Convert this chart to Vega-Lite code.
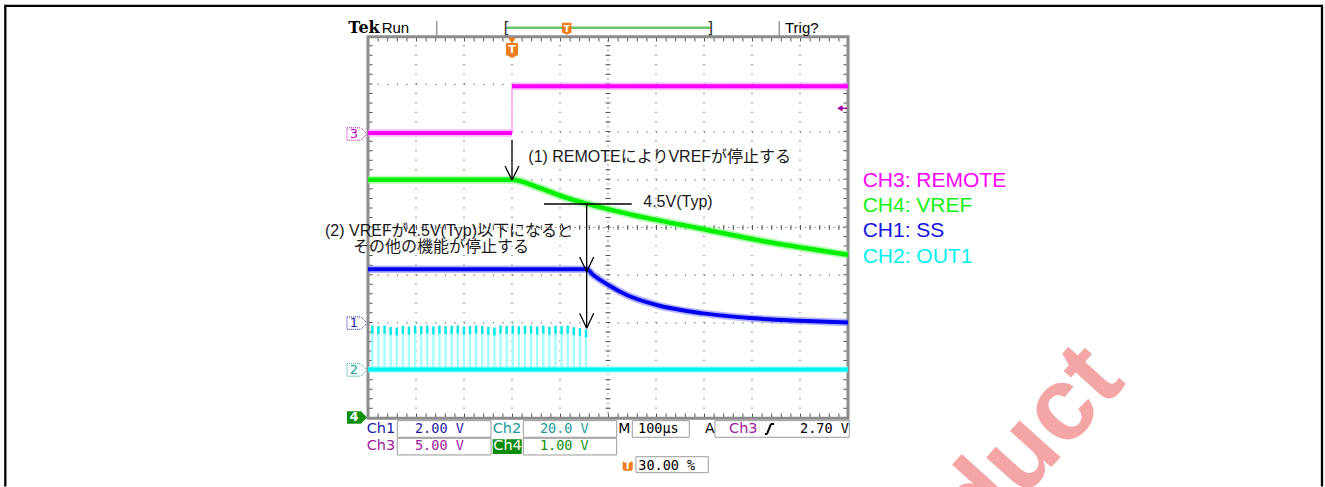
{
"$schema": "https://vega.github.io/schema/vega-lite/v6.json",
"width": 1325, "height": 487,
"autosize": {"type": "none"},
"padding": 0,
"background": "#ffffff",
"config": {"view": {"stroke": null}, "axis": {"disable": true, "grid": false, "domain": false, "ticks": false, "labels": false}},
"data": {"values": [{}]},
"datasets": {
  "ch3": [{"t": -300, "v": -0.1, "seg": "off"}, {"t": 0, "v": -0.1, "seg": "off"}, {"t": 0, "v": 4.8, "seg": "on"}, {"t": 700, "v": 4.8, "seg": "on"}],
  "ch4": [{"t": -300, "v": 5.0}, {"t": 0, "v": 5.0}, {"t": 57, "v": 4.83}, {"t": 114, "v": 4.62}, {"t": 155.6, "v": 4.5}, {"t": 252.7, "v": 4.26}, {"t": 391.7, "v": 3.98}, {"t": 530.6, "v": 3.7}, {"t": 700, "v": 3.43}],
  "ch1": [{"t": -300, "v": 2.25}, {"t": 155.6, "v": 2.25}, {"t": 169.4, "v": 2.01}, {"t": 200.6, "v": 1.59}, {"t": 239, "v": 1.17}, {"t": 301.5, "v": 0.75}, {"t": 398.5, "v": 0.4}, {"t": 502.7, "v": 0.19}, {"t": 600, "v": 0.09}, {"t": 700, "v": 0.02}],
  "ch2": [{"t": -300, "v": 0.5}, {"t": 700, "v": 0.5}],
  "pulses": [
    {"t": -291.0, "v": 17.2, "lo": 0.5}, {"t": -278.3, "v": 17.0, "lo": 0.5}, {"t": -265.6, "v": 17.2, "lo": 0.5}, {"t": -252.8, "v": 16.6, "lo": 0.5}, {"t": -240.1, "v": 16.4, "lo": 0.5}, {"t": -227.4, "v": 17.1, "lo": 0.5},
    {"t": -214.7, "v": 16.8, "lo": 0.5}, {"t": -201.9, "v": 17.2, "lo": 0.5}, {"t": -189.2, "v": 17.0, "lo": 0.5}, {"t": -176.5, "v": 17.2, "lo": 0.5}, {"t": -163.8, "v": 16.9, "lo": 0.5}, {"t": -151.1, "v": 17.2, "lo": 0.5},
    {"t": -138.4, "v": 17.0, "lo": 0.5}, {"t": -125.6, "v": 17.1, "lo": 0.5}, {"t": -112.9, "v": 17.2, "lo": 0.5}, {"t": -100.2, "v": 16.8, "lo": 0.5}, {"t": -87.5, "v": 17.0, "lo": 0.5}, {"t": -74.8, "v": 17.2, "lo": 0.5},
    {"t": -62.0, "v": 17.1, "lo": 0.5}, {"t": -49.3, "v": 16.6, "lo": 0.5}, {"t": -36.6, "v": 16.4, "lo": 0.5}, {"t": -23.9, "v": 17.2, "lo": 0.5}, {"t": -11.1, "v": 17.0, "lo": 0.5}, {"t": 1.6, "v": 17.2, "lo": 0.5},
    {"t": 14.3, "v": 16.9, "lo": 0.5}, {"t": 27.0, "v": 17.1, "lo": 0.5}, {"t": 39.7, "v": 17.2, "lo": 0.5}, {"t": 52.4, "v": 16.8, "lo": 0.5}, {"t": 65.2, "v": 17.2, "lo": 0.5}, {"t": 77.9, "v": 16.7, "lo": 0.5},
    {"t": 90.6, "v": 17.1, "lo": 0.5}, {"t": 103.3, "v": 17.0, "lo": 0.5}, {"t": 116.0, "v": 17.2, "lo": 0.5}, {"t": 128.8, "v": 16.5, "lo": 0.5}, {"t": 141.5, "v": 16.2, "lo": 0.5}, {"t": 154.2, "v": 15.6, "lo": 0.5}
  ],
  "lines": [
    {"kind": "border", "t": -1055.6, "t2": 1687.5, "d": 4.6478, "d2": 4.6478},
    {"kind": "border", "t": -1055.6, "t2": -1055.6, "d": 4.671, "d2": -5.43},
    {"kind": "border", "t": 1687.5, "t2": 1687.5, "d": 4.671, "d2": -5.43},
    {"kind": "vgrid", "t": -200, "t2": -200, "d": -4, "d2": 4},
    {"kind": "vgrid", "t": -100, "t2": -100, "d": -4, "d2": 4},
    {"kind": "vgrid", "t": 0, "t2": 0, "d": -4, "d2": 4},
    {"kind": "vgrid", "t": 100, "t2": 100, "d": -4, "d2": 4},
    {"kind": "vgrid", "t": 300, "t2": 300, "d": -4, "d2": 4},
    {"kind": "vgrid", "t": 400, "t2": 400, "d": -4, "d2": 4},
    {"kind": "vgrid", "t": 500, "t2": 500, "d": -4, "d2": 4},
    {"kind": "vgrid", "t": 600, "t2": 600, "d": -4, "d2": 4},
    {"kind": "hgrid", "t": -300, "t2": 700, "d": -3, "d2": -3},
    {"kind": "hgrid", "t": -300, "t2": 700, "d": -2, "d2": -2},
    {"kind": "hgrid", "t": -300, "t2": 700, "d": -1, "d2": -1},
    {"kind": "hgrid", "t": -300, "t2": 700, "d": 1, "d2": 1},
    {"kind": "hgrid", "t": -300, "t2": 700, "d": 2, "d2": 2},
    {"kind": "hgrid", "t": -300, "t2": 700, "d": 3, "d2": 3},
    {"kind": "vcenter", "t": 200, "t2": 200, "d": -4, "d2": 4},
    {"kind": "hcenter", "t": -300, "t2": 700, "d": 0, "d2": 0},
    {"kind": "hedge", "t": -300, "t2": 700, "d": 3.941, "d2": 3.941},
    {"kind": "hedge", "t": -300, "t2": 700, "d": -3.941, "d2": -3.941},
    {"kind": "vedge", "t": -294.5, "t2": -294.5, "d": -4, "d2": 4},
    {"kind": "vedge", "t": 694.5, "t2": 694.5, "d": -4, "d2": 4},
    {"kind": "sep", "t": -156.9, "t2": -156.9, "d": 4.329, "d2": 4.015},
    {"kind": "sep", "t": 556.9, "t2": 556.9, "d": 4.329, "d2": 4.015},
    {"kind": "record", "t": -11.5, "t2": 413.5, "d": 4.189, "d2": 4.189},
    {"kind": "triglevel", "t": 683, "t2": 698, "d": 2.499, "d2": 2.499},
    {"kind": "edge", "t": 527.1, "t2": 532, "d": -4.329, "d2": -4.329},
    {"kind": "edge", "t": 531.3, "t2": 539.6, "d": -4.329, "d2": -4.119},
    {"kind": "edge", "t": 539, "t2": 545.8, "d": -4.119, "d2": -4.119},
    {"kind": "arrow", "t": 0, "t2": 0, "d": 1.834, "d2": 0.996},
    {"kind": "arrow", "t": -14.58, "t2": 0, "d": 1.289, "d2": 0.996},
    {"kind": "arrow", "t": 14.58, "t2": 0, "d": 1.289, "d2": 0.996},
    {"kind": "arrow", "t": 66.7, "t2": 249.4, "d": 0.4927, "d2": 0.4927},
    {"kind": "arrow", "t": 155.6, "t2": 155.6, "d": 0.4927, "d2": -2.113},
    {"kind": "arrow", "t": 141.0, "t2": 155.6, "d": -0.618, "d2": -0.927},
    {"kind": "arrow", "t": 170.2, "t2": 155.6, "d": -0.618, "d2": -0.927},
    {"kind": "arrow", "t": 141.0, "t2": 155.6, "d": -1.799, "d2": -2.113},
    {"kind": "arrow", "t": 170.2, "t2": 155.6, "d": -1.799, "d2": -2.113}
  ],
  "boxes": [
    {"kind": "frame", "t": -300, "t2": 700, "d": -4, "d2": 4},
    {"kind": "readout", "t": -239, "t2": -43.75, "d": -4.05, "d2": -4.398},
    {"kind": "readout", "t": -239, "t2": -43.75, "d": -4.419, "d2": -4.769},
    {"kind": "readout", "t": 23.5, "t2": 218.1, "d": -4.05, "d2": -4.398},
    {"kind": "readout", "t": 23.5, "t2": 218.1, "d": -4.419, "d2": -4.769},
    {"kind": "readout", "t": 250.6, "t2": 369.4, "d": -4.05, "d2": -4.398},
    {"kind": "readout", "t": 422.9, "t2": 702.7, "d": -4.05, "d2": -4.398},
    {"kind": "readout", "t": 258.3, "t2": 408.9, "d": -4.805, "d2": -5.14},
    {"kind": "ch4tag", "t": -40.2, "t2": 20.2, "d": -4.44, "d2": -4.748},
    {"kind": "trigtag", "t": 230.6, "t2": 251.5, "d": -4.895, "d2": -5.099}
  ]
},
"resolve": {"scale": {"y": "independent"}},
"layer": [
  {"layer": [
    {"data": {"name": "lines"}, "transform": [{"filter": "datum.kind === 'border'"}],
     "mark": {"type": "rule", "stroke": "#000000", "strokeWidth": 2.3},
     "encoding": {"x": {"field": "t", "type": "quantitative", "scale": {"domain": [-1066.6667, 1693.75], "nice": false, "zero": false}}, "x2": {"field": "t2"},
                  "y": {"field": "d", "type": "quantitative", "scale": {"domain": [-5.4403, 4.7694], "nice": false, "zero": false}}, "y2": {"field": "d2"}}},
    {"data": {"name": "lines"}, "transform": [{"filter": "datum.kind === 'vgrid'"}],
     "mark": {"type": "rule", "stroke": "#6e6e6e", "strokeWidth": 1.2, "strokeDash": [1.2, 8.34]},
     "encoding": {"x": {"field": "t", "type": "quantitative"}, "x2": {"field": "t2"}, "y": {"field": "d", "type": "quantitative"}, "y2": {"field": "d2"}}},
    {"data": {"name": "lines"}, "transform": [{"filter": "datum.kind === 'hgrid'"}],
     "mark": {"type": "rule", "stroke": "#6e6e6e", "strokeWidth": 1.2, "strokeDash": [1.2, 8.4]},
     "encoding": {"x": {"field": "t", "type": "quantitative"}, "x2": {"field": "t2"}, "y": {"field": "d", "type": "quantitative"}, "y2": {"field": "d2"}}},
    {"data": {"name": "lines"}, "transform": [{"filter": "datum.kind === 'vcenter'"}],
     "mark": {"type": "rule", "stroke": "#6e6e6e", "strokeWidth": 1.2, "strokeDash": [1.2, 3.57]},
     "encoding": {"x": {"field": "t", "type": "quantitative"}, "x2": {"field": "t2"}, "y": {"field": "d", "type": "quantitative"}, "y2": {"field": "d2"}}},
    {"data": {"name": "lines"}, "transform": [{"filter": "datum.kind === 'vcenter'"}],
     "mark": {"type": "rule", "stroke": "#555555", "strokeWidth": 5, "strokeDash": [1, 8.54]},
     "encoding": {"x": {"field": "t", "type": "quantitative"}, "x2": {"field": "t2"}, "y": {"field": "d", "type": "quantitative"}, "y2": {"field": "d2"}}},
    {"data": {"name": "lines"}, "transform": [{"filter": "datum.kind === 'hcenter'"}],
     "mark": {"type": "rule", "stroke": "#6e6e6e", "strokeWidth": 1.2, "strokeDash": [1.2, 3.6]},
     "encoding": {"x": {"field": "t", "type": "quantitative"}, "x2": {"field": "t2"}, "y": {"field": "d", "type": "quantitative"}, "y2": {"field": "d2"}}},
    {"data": {"name": "lines"}, "transform": [{"filter": "datum.kind === 'hcenter'"}],
     "mark": {"type": "rule", "stroke": "#555555", "strokeWidth": 5, "strokeDash": [1, 8.6]},
     "encoding": {"x": {"field": "t", "type": "quantitative"}, "x2": {"field": "t2"}, "y": {"field": "d", "type": "quantitative"}, "y2": {"field": "d2"}}},
    {"data": {"name": "lines"}, "transform": [{"filter": "datum.kind === 'hedge'"}],
     "mark": {"type": "rule", "stroke": "#555555", "strokeWidth": 4, "strokeDash": [1, 8.6]},
     "encoding": {"x": {"field": "t", "type": "quantitative"}, "x2": {"field": "t2"}, "y": {"field": "d", "type": "quantitative"}, "y2": {"field": "d2"}}},
    {"data": {"name": "lines"}, "transform": [{"filter": "datum.kind === 'vedge'"}],
     "mark": {"type": "rule", "stroke": "#555555", "strokeWidth": 4, "strokeDash": [1, 8.54]},
     "encoding": {"x": {"field": "t", "type": "quantitative"}, "x2": {"field": "t2"}, "y": {"field": "d", "type": "quantitative"}, "y2": {"field": "d2"}}},
    {"data": {"name": "boxes"}, "transform": [{"filter": "datum.kind === 'frame'"}],
     "mark": {"type": "rect", "filled": false, "stroke": "#8c8c8c", "strokeWidth": 3},
     "encoding": {"x": {"field": "t", "type": "quantitative"}, "x2": {"field": "t2"}, "y": {"field": "d", "type": "quantitative"}, "y2": {"field": "d2"}}},
    {"data": {"name": "lines"}, "transform": [{"filter": "datum.kind === 'sep'"}],
     "mark": {"type": "rule", "stroke": "#999999", "strokeWidth": 1.5},
     "encoding": {"x": {"field": "t", "type": "quantitative"}, "x2": {"field": "t2"}, "y": {"field": "d", "type": "quantitative"}, "y2": {"field": "d2"}}},
    {"data": {"name": "lines"}, "transform": [{"filter": "datum.kind === 'record'"}],
     "mark": {"type": "rule", "stroke": "#6cc46c", "strokeWidth": 2.5},
     "encoding": {"x": {"field": "t", "type": "quantitative"}, "x2": {"field": "t2"}, "y": {"field": "d", "type": "quantitative"}, "y2": {"field": "d2"}}},
    {"data": {"name": "lines"}, "transform": [{"filter": "datum.kind === 'triglevel'"}],
     "mark": {"type": "rule", "stroke": "#a000a0", "strokeWidth": 1.5},
     "encoding": {"x": {"field": "t", "type": "quantitative"}, "x2": {"field": "t2"}, "y": {"field": "d", "type": "quantitative"}, "y2": {"field": "d2"}}},
    {"data": {"name": "boxes"}, "transform": [{"filter": "datum.kind === 'readout'"}],
     "mark": {"type": "rect", "fill": "#ffffff", "stroke": "#9a9a9a", "strokeWidth": 1},
     "encoding": {"x": {"field": "t", "type": "quantitative"}, "x2": {"field": "t2"}, "y": {"field": "d", "type": "quantitative"}, "y2": {"field": "d2"}}},
    {"data": {"name": "boxes"}, "transform": [{"filter": "datum.kind === 'ch4tag'"}],
     "mark": {"type": "rect", "fill": "#0c8c0c"},
     "encoding": {"x": {"field": "t", "type": "quantitative"}, "x2": {"field": "t2"}, "y": {"field": "d", "type": "quantitative"}, "y2": {"field": "d2"}}},
    {"data": {"name": "boxes"}, "transform": [{"filter": "datum.kind === 'trigtag'"}],
     "mark": {"type": "rect", "fill": "#f07c20", "cornerRadius": 2},
     "encoding": {"x": {"field": "t", "type": "quantitative"}, "x2": {"field": "t2"}, "y": {"field": "d", "type": "quantitative"}, "y2": {"field": "d2"}}},
    {"data": {"name": "lines"}, "transform": [{"filter": "datum.kind === 'edge'"}],
     "mark": {"type": "rule", "stroke": "#000000", "strokeWidth": 2},
     "encoding": {"x": {"field": "t", "type": "quantitative"}, "x2": {"field": "t2"}, "y": {"field": "d", "type": "quantitative"}, "y2": {"field": "d2"}}},

    {"mark": {"type": "text", "text": "Tek", "align": "left", "baseline": "alphabetic", "font": "DejaVu Serif", "fontWeight": "bold", "fontSize": 16, "color": "#000000"},
     "encoding": {"x": {"datum": -341, "type": "quantitative"}, "y": {"datum": 4.088, "type": "quantitative"}}},
    {"mark": {"type": "text", "text": "Run", "align": "left", "baseline": "alphabetic", "font": "Liberation Sans", "fontSize": 15, "color": "#000000"},
     "encoding": {"x": {"datum": -271.5, "type": "quantitative"}, "y": {"datum": 4.088, "type": "quantitative"}}},
    {"mark": {"type": "text", "text": "Trig?", "align": "left", "baseline": "alphabetic", "font": "Liberation Sans", "fontSize": 15, "color": "#000000"},
     "encoding": {"x": {"datum": 568.75, "type": "quantitative"}, "y": {"datum": 4.088, "type": "quantitative"}}},
    {"mark": {"type": "text", "text": "[", "align": "center", "baseline": "middle", "font": "DejaVu Sans", "fontSize": 16, "color": "#333333"},
     "encoding": {"x": {"datum": -11, "type": "quantitative"}, "y": {"datum": 4.189, "type": "quantitative"}}},
    {"mark": {"type": "text", "text": "]", "align": "center", "baseline": "middle", "font": "DejaVu Sans", "fontSize": 16, "color": "#333333"},
     "encoding": {"x": {"datum": 413, "type": "quantitative"}, "y": {"datum": 4.189, "type": "quantitative"}}},
    {"mark": {"type": "point", "shape": "M-0.8,-1L0.8,-1L0.8,0.6L0,1L-0.8,0.6Z", "size": 144, "filled": true, "color": "#f07c20", "opacity": 1},
     "encoding": {"x": {"datum": 114, "type": "quantitative"}, "y": {"datum": 4.165, "type": "quantitative"}}},
    {"mark": {"type": "text", "text": "T", "align": "center", "baseline": "middle", "font": "DejaVu Sans", "fontWeight": "bold", "fontSize": 9, "color": "#ffffff"},
     "encoding": {"x": {"datum": 114, "type": "quantitative"}, "y": {"datum": 4.165, "type": "quantitative"}}},
    {"mark": {"type": "point", "shape": "triangle-down", "size": 60, "filled": true, "color": "#f07c20", "opacity": 1},
     "encoding": {"x": {"datum": 0, "type": "quantitative"}, "y": {"datum": 3.915, "type": "quantitative"}}},
    {"mark": {"type": "point", "shape": "M-0.8,-1L0.8,-1L0.8,0.6L0,1L-0.8,0.6Z", "size": 225, "filled": true, "color": "#f07c20", "opacity": 1},
     "encoding": {"x": {"datum": 0, "type": "quantitative"}, "y": {"datum": 3.711, "type": "quantitative"}}},
    {"mark": {"type": "text", "text": "T", "align": "center", "baseline": "middle", "font": "DejaVu Sans", "fontWeight": "bold", "fontSize": 11, "color": "#ffffff"},
     "encoding": {"x": {"datum": 0, "type": "quantitative"}, "y": {"datum": 3.73, "type": "quantitative"}}},

    {"mark": {"type": "point", "shape": "M-1,-0.62L0.4,-0.62L1,0L0.4,0.62L-1,0.62Z", "size": 400, "filled": true, "fill": "#ffffff", "stroke": "#c000c0", "strokeWidth": 1, "strokeDash": [1, 1], "opacity": 1},
     "encoding": {"x": {"datum": -322.9, "type": "quantitative"}, "y": {"datum": 1.96, "type": "quantitative"}}},
    {"mark": {"type": "text", "text": "3", "align": "center", "baseline": "middle", "font": "DejaVu Sans", "fontSize": 13, "color": "#c000c0"},
     "encoding": {"x": {"datum": -329.2, "type": "quantitative"}, "y": {"datum": 1.96, "type": "quantitative"}}},
    {"mark": {"type": "point", "shape": "M-1,-0.62L0.4,-0.62L1,0L0.4,0.62L-1,0.62Z", "size": 400, "filled": true, "fill": "#ffffff", "stroke": "#1c1ca8", "strokeWidth": 1, "strokeDash": [1, 1], "opacity": 1},
     "encoding": {"x": {"datum": -322.9, "type": "quantitative"}, "y": {"datum": -2.005, "type": "quantitative"}}},
    {"mark": {"type": "text", "text": "1", "align": "center", "baseline": "middle", "font": "DejaVu Sans", "fontSize": 13, "color": "#1c1ca8"},
     "encoding": {"x": {"datum": -329.2, "type": "quantitative"}, "y": {"datum": -2.005, "type": "quantitative"}}},
    {"mark": {"type": "point", "shape": "M-1,-0.62L0.4,-0.62L1,0L0.4,0.62L-1,0.62Z", "size": 400, "filled": true, "fill": "#ffffff", "stroke": "#20a0a0", "strokeWidth": 1, "strokeDash": [1, 1], "opacity": 1},
     "encoding": {"x": {"datum": -322.9, "type": "quantitative"}, "y": {"datum": -2.987, "type": "quantitative"}}},
    {"mark": {"type": "text", "text": "2", "align": "center", "baseline": "middle", "font": "DejaVu Sans", "fontSize": 13, "color": "#20a0a0"},
     "encoding": {"x": {"datum": -329.2, "type": "quantitative"}, "y": {"datum": -2.987, "type": "quantitative"}}},
    {"mark": {"type": "point", "shape": "M-1,-0.62L0.4,-0.62L1,0L0.4,0.62L-1,0.62Z", "size": 400, "filled": true, "color": "#109010", "opacity": 1},
     "encoding": {"x": {"datum": -322.9, "type": "quantitative"}, "y": {"datum": -3.983, "type": "quantitative"}}},
    {"mark": {"type": "text", "text": "4", "align": "center", "baseline": "middle", "font": "DejaVu Sans", "fontWeight": "bold", "fontSize": 13, "color": "#ffffff"},
     "encoding": {"x": {"datum": -329.2, "type": "quantitative"}, "y": {"datum": -3.983, "type": "quantitative"}}},
    {"mark": {"type": "point", "shape": "triangle-left", "size": 40, "filled": true, "color": "#a000a0", "opacity": 1},
     "encoding": {"x": {"datum": 683, "type": "quantitative"}, "y": {"datum": 2.499, "type": "quantitative"}}},

    {"mark": {"type": "text", "text": "T", "align": "center", "baseline": "middle", "font": "DejaVu Sans", "fontWeight": "bold", "fontSize": 10, "color": "#ffffff"},
     "encoding": {"x": {"datum": 241, "type": "quantitative"}, "y": {"datum": -4.997, "type": "quantitative"}}},
    {"mark": {"type": "text", "text": "Ch1", "align": "left", "baseline": "middle", "font": "DejaVu Sans", "fontSize": 14.5, "color": "#1c1ca8"},
     "encoding": {"x": {"datum": -302.7, "type": "quantitative"}, "y": {"datum": -4.224, "type": "quantitative"}}},
    {"mark": {"type": "text", "text": "2.00 V", "align": "left", "baseline": "middle", "font": "DejaVu Sans Mono", "fontSize": 13.5, "color": "#1c1ca8"},
     "encoding": {"x": {"datum": -202.1, "type": "quantitative"}, "y": {"datum": -4.224, "type": "quantitative"}}},
    {"mark": {"type": "text", "text": "Ch2", "align": "left", "baseline": "middle", "font": "DejaVu Sans", "fontSize": 14.5, "color": "#1a9a9a"},
     "encoding": {"x": {"datum": -40.2, "type": "quantitative"}, "y": {"datum": -4.224, "type": "quantitative"}}},
    {"mark": {"type": "text", "text": "20.0 V", "align": "left", "baseline": "middle", "font": "DejaVu Sans Mono", "fontSize": 13.5, "color": "#1a9a9a"},
     "encoding": {"x": {"datum": 58.3, "type": "quantitative"}, "y": {"datum": -4.224, "type": "quantitative"}}},
    {"mark": {"type": "text", "text": "M", "align": "left", "baseline": "middle", "font": "DejaVu Sans", "fontSize": 14, "color": "#000000"},
     "encoding": {"x": {"datum": 221.5, "type": "quantitative"}, "y": {"datum": -4.224, "type": "quantitative"}}},
    {"mark": {"type": "text", "text": "100µs", "align": "left", "baseline": "middle", "font": "DejaVu Sans Mono", "fontSize": 13.5, "color": "#000000"},
     "encoding": {"x": {"datum": 262.5, "type": "quantitative"}, "y": {"datum": -4.224, "type": "quantitative"}}},
    {"mark": {"type": "text", "text": "A", "align": "left", "baseline": "middle", "font": "DejaVu Sans", "fontSize": 14, "color": "#000000"},
     "encoding": {"x": {"datum": 402.1, "type": "quantitative"}, "y": {"datum": -4.224, "type": "quantitative"}}},
    {"mark": {"type": "text", "text": "Ch3", "align": "left", "baseline": "middle", "font": "DejaVu Sans", "fontSize": 14.5, "color": "#a020a0"},
     "encoding": {"x": {"datum": 452.1, "type": "quantitative"}, "y": {"datum": -4.224, "type": "quantitative"}}},
    {"mark": {"type": "text", "text": "2.70 V", "align": "left", "baseline": "middle", "font": "DejaVu Sans Mono", "fontSize": 13.5, "color": "#000000"},
     "encoding": {"x": {"datum": 600, "type": "quantitative"}, "y": {"datum": -4.224, "type": "quantitative"}}},
    {"mark": {"type": "text", "text": "Ch3", "align": "left", "baseline": "middle", "font": "DejaVu Sans", "fontSize": 14.5, "color": "#a020a0"},
     "encoding": {"x": {"datum": -302.7, "type": "quantitative"}, "y": {"datum": -4.591, "type": "quantitative"}}},
    {"mark": {"type": "text", "text": "5.00 V", "align": "left", "baseline": "middle", "font": "DejaVu Sans Mono", "fontSize": 13.5, "color": "#a020a0"},
     "encoding": {"x": {"datum": -202.1, "type": "quantitative"}, "y": {"datum": -4.591, "type": "quantitative"}}},
    {"mark": {"type": "text", "text": "Ch4", "align": "left", "baseline": "middle", "font": "DejaVu Sans", "fontSize": 14.5, "color": "#ffffff"},
     "encoding": {"x": {"datum": -39, "type": "quantitative"}, "y": {"datum": -4.591, "type": "quantitative"}}},
    {"mark": {"type": "text", "text": "1.00 V", "align": "left", "baseline": "middle", "font": "DejaVu Sans Mono", "fontSize": 13.5, "color": "#109010"},
     "encoding": {"x": {"datum": 58.3, "type": "quantitative"}, "y": {"datum": -4.591, "type": "quantitative"}}},
    {"mark": {"type": "text", "text": "30.00 %", "align": "left", "baseline": "middle", "font": "DejaVu Sans Mono", "fontSize": 13.5, "color": "#000000"},
     "encoding": {"x": {"datum": 263.1, "type": "quantitative"}, "y": {"datum": -4.99, "type": "quantitative"}}},

    {"mark": {"type": "text", "text": "CH3: REMOTE", "align": "left", "baseline": "alphabetic", "font": "Liberation Sans", "fontSize": 21, "color": "#ff00ff"},
     "encoding": {"x": {"datum": 730.6, "type": "quantitative"}, "y": {"datum": 0.843, "type": "quantitative"}}},
    {"mark": {"type": "text", "text": "CH4: VREF", "align": "left", "baseline": "alphabetic", "font": "Liberation Sans", "fontSize": 21, "color": "#14f014"},
     "encoding": {"x": {"datum": 730.6, "type": "quantitative"}, "y": {"datum": 0.325, "type": "quantitative"}}},
    {"mark": {"type": "text", "text": "CH1: SS", "align": "left", "baseline": "alphabetic", "font": "Liberation Sans", "fontSize": 21, "color": "#1414e6"},
     "encoding": {"x": {"datum": 730.6, "type": "quantitative"}, "y": {"datum": -0.205, "type": "quantitative"}}},
    {"mark": {"type": "text", "text": "CH2: OUT1", "align": "left", "baseline": "alphabetic", "font": "Liberation Sans", "fontSize": 21, "color": "#00f0f0"},
     "encoding": {"x": {"datum": 730.6, "type": "quantitative"}, "y": {"datum": -0.734, "type": "quantitative"}}},
    {"mark": {"type": "text", "text": "Product", "align": "right", "baseline": "alphabetic", "angle": -48, "font": "Liberation Sans", "fontWeight": "bold", "fontSize": 104, "color": "#f4a6a6"},
     "encoding": {"x": {"datum": 1281.3, "type": "quantitative"}, "y": {"datum": -3.26, "type": "quantitative"}}}
  ]},

  {"data": {"name": "pulses"}, "layer": [
    {"mark": {"type": "rule", "stroke": "#a6ffff", "strokeWidth": 2.4},
     "encoding": {"x": {"field": "t", "type": "quantitative", "scale": {"domain": [-1066.6667, 1693.75], "nice": false, "zero": false}},
                  "y": {"field": "v", "type": "quantitative", "scale": {"domain": [-48.805, 155.388], "nice": false, "zero": false}}, "y2": {"field": "lo"}}},
    {"mark": {"type": "point", "shape": "M-0.3,-1L0.3,-1L0.3,1L-0.3,1Z", "size": 64, "filled": true, "color": "#00e8e8", "opacity": 1},
     "encoding": {"x": {"field": "t", "type": "quantitative"}, "y": {"field": "v", "type": "quantitative"}}},
    {"data": {"name": "ch2"}, "mark": {"type": "line", "stroke": "#80ffff", "strokeWidth": 7, "opacity": 0.5},
     "encoding": {"x": {"field": "t", "type": "quantitative"}, "y": {"field": "v", "type": "quantitative"}}},
    {"data": {"name": "ch2"}, "mark": {"type": "line", "stroke": "#00f2f2", "strokeWidth": 4},
     "encoding": {"x": {"field": "t", "type": "quantitative"}, "y": {"field": "v", "type": "quantitative"}}}
  ]},

  {"data": {"name": "ch1"}, "layer": [
    {"mark": {"type": "line", "stroke": "#7a7aff", "strokeWidth": 7.5, "opacity": 0.55, "interpolate": "monotone"},
     "encoding": {"x": {"field": "t", "type": "quantitative", "scale": {"domain": [-1066.6667, 1693.75], "nice": false, "zero": false}},
                  "y": {"field": "v", "type": "quantitative", "scale": {"domain": [-6.8805, 13.53878], "nice": false, "zero": false}}}},
    {"mark": {"type": "line", "stroke": "#0000f0", "strokeWidth": 4, "interpolate": "monotone"},
     "encoding": {"x": {"field": "t", "type": "quantitative"}, "y": {"field": "v", "type": "quantitative"}}}
  ]},

  {"data": {"name": "ch4"}, "layer": [
    {"mark": {"type": "line", "stroke": "#7dff7d", "strokeWidth": 8, "opacity": 0.6, "interpolate": "monotone"},
     "encoding": {"x": {"field": "t", "type": "quantitative", "scale": {"domain": [-1066.6667, 1693.75], "nice": false, "zero": false}},
                  "y": {"field": "v", "type": "quantitative", "scale": {"domain": [-1.44025, 8.76939], "nice": false, "zero": false}}}},
    {"mark": {"type": "line", "stroke": "#00f000", "strokeWidth": 4.5, "interpolate": "monotone"},
     "encoding": {"x": {"field": "t", "type": "quantitative"}, "y": {"field": "v", "type": "quantitative"}}}
  ]},

  {"data": {"name": "ch3"}, "layer": [
    {"mark": {"type": "line", "stroke": "#ff9cff", "strokeWidth": 1.5},
     "encoding": {"x": {"field": "t", "type": "quantitative", "scale": {"domain": [-1066.6667, 1693.75], "nice": false, "zero": false}},
                  "y": {"field": "v", "type": "quantitative", "scale": {"domain": [-37.201, 13.847], "nice": false, "zero": false}}}},
    {"mark": {"type": "line", "stroke": "#ff80ff", "strokeWidth": 7.5, "opacity": 0.55},
     "encoding": {"x": {"field": "t", "type": "quantitative"}, "y": {"field": "v", "type": "quantitative"}, "detail": {"field": "seg", "type": "nominal"}}},
    {"mark": {"type": "line", "stroke": "#ff00ff", "strokeWidth": 4},
     "encoding": {"x": {"field": "t", "type": "quantitative"}, "y": {"field": "v", "type": "quantitative"}, "detail": {"field": "seg", "type": "nominal"}}}
  ]},

  {"layer": [
    {"data": {"name": "lines"}, "transform": [{"filter": "datum.kind === 'arrow'"}],
     "mark": {"type": "rule", "stroke": "#000000", "strokeWidth": 1.3},
     "encoding": {"x": {"field": "t", "type": "quantitative", "scale": {"domain": [-1066.6667, 1693.75], "nice": false, "zero": false}}, "x2": {"field": "t2"},
                  "y": {"field": "d", "type": "quantitative", "scale": {"domain": [-5.4403, 4.7694], "nice": false, "zero": false}}, "y2": {"field": "d2"}}},
    {"mark": {"type": "text", "text": "(1)  REMOTEによりVREFが停止する", "align": "left", "baseline": "middle", "font": "Liberation Sans, Noto Sans CJK JP", "fontSize": 16, "color": "#1a1a1a"},
     "encoding": {"x": {"datum": 34.0, "type": "quantitative"}, "y": {"datum": 1.484, "type": "quantitative"}}},
    {"mark": {"type": "text", "text": "4.5V(Typ)", "align": "left", "baseline": "middle", "font": "Liberation Sans, Noto Sans CJK JP", "fontSize": 16, "color": "#1a1a1a"},
     "encoding": {"x": {"datum": 273.5, "type": "quantitative"}, "y": {"datum": 0.545, "type": "quantitative"}}},
    {"mark": {"type": "text", "text": "(2)  VREFが4.5V(Typ)以下になると", "align": "left", "baseline": "middle", "font": "Liberation Sans, Noto Sans CJK JP", "fontSize": 16, "color": "#1a1a1a"},
     "encoding": {"x": {"datum": -389.6, "type": "quantitative"}, "y": {"datum": -0.063, "type": "quantitative"}}},
    {"mark": {"type": "text", "text": "その他の機能が停止する", "align": "left", "baseline": "middle", "font": "Liberation Sans, Noto Sans CJK JP", "fontSize": 16, "color": "#1a1a1a"},
     "encoding": {"x": {"datum": -331.3, "type": "quantitative"}, "y": {"datum": -0.409, "type": "quantitative"}}}
  ]}
]
}
